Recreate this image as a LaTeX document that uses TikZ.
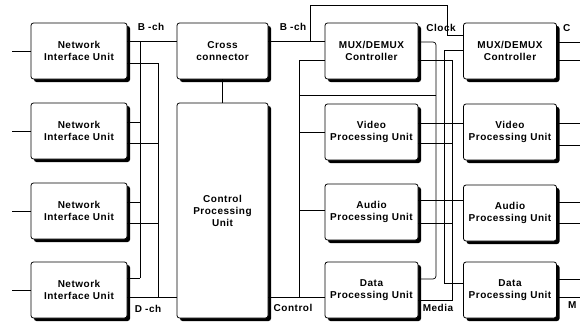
\documentclass[tikz,border=0pt]{standalone}
\usepackage{fontspec}
\setmainfont{Liberation Sans}
\newfontfamily\diafont[LetterSpace=5]{Liberation Sans}
\usetikzlibrary{shadows}
\begin{document}
\begin{tikzpicture}[x=1pt,y=-1pt,
  unit/.style={draw, line width=0.8pt, fill=white, rounded corners=2.5pt,
    general shadow={fill=black, shadow xshift=3pt, shadow yshift=-3pt},
    align=center, inner sep=0pt, font=\diafont\bfseries\fontsize{10}{12}\selectfont},
  niu/.style={unit, minimum width=96pt, minimum height=56pt},
  colunit/.style={unit, minimum width=93pt, minimum height=56pt},
  wire/.style={line width=0.7pt},
  lbl/.style={font=\diafont\bfseries\fontsize{10}{11}\selectfont, inner sep=0pt}]
\useasboundingbox (0,0) rectangle (580,324);
\clip (0,0) rectangle (580,324);
\fill[white] (0,0) rectangle (580,324);

% left column
\node[niu] (niu1) at (79,51) {Network\\Interface Unit};
\node[niu] (niu2) at (79,131) {Network\\Interface Unit};
\node[niu] (niu3) at (79,211) {Network\\Interface Unit};
\node[niu] (niu4) at (79,290) {Network\\Interface Unit};

% centre
\node[unit, minimum width=91pt, minimum height=56pt] (cross) at (222.5,51) {Cross\\connector};
\node[unit, minimum width=91pt, minimum height=215pt] (cpu) at (222.5,210.5) {Control\\Processing\\Unit};

% first processing column
\node[colunit] (mux1) at (371.5,51) {MUX/DEMUX\\Controller};
\node[colunit] (video1) at (371.5,132) {Video\\Processing Unit};
\node[colunit] (audio1) at (371.5,212) {Audio\\Processing Unit};
\node[colunit] (data1) at (371.5,290) {Data\\Processing Unit};

% second processing column
\node[colunit] (mux2) at (510,51) {MUX/DEMUX\\Controller};
\node[colunit] (video2) at (510,132) {Video\\Processing Unit};
\node[colunit] (audio2) at (510,213) {Audio\\Processing Unit};
\node[colunit] (data2) at (510,290) {Data\\Processing Unit};

% free ends on the left
\foreach \n in {1,2,3,4}{
  \coordinate (in\n) at (12,0 |- niu\n.west);
  \draw[wire] (niu\n.west) -- (in\n);
}

% B-ch and D-ch buses
\coordinate (bB1) at (140,41);  \coordinate (bB2) at (140,278);
\coordinate (bD1) at (158,63);  \coordinate (bD2) at (158,297);
\draw[wire] (bB1) -- (bB2);
\draw[wire] (bD1) -- (bD2);
\draw[wire] (niu1.east |- 0,41) -- (cross.west |- 0,41);
\draw[wire] (niu1.east |- 0,63) -- (bD1);
\draw[wire] (niu2.east |- 0,122) -- (bB2 |- 0,122);
\draw[wire] (niu2.east |- 0,143) -- (bD2 |- 0,143);
\draw[wire] (niu3.east |- 0,202) -- (bB2 |- 0,202);
\draw[wire] (niu3.east |- 0,223) -- (bD2 |- 0,223);
\draw[wire] (niu4.east |- 0,278) -- (bB2);
\draw[wire] (niu4.east |- 0,297) -- (cpu.west |- 0,297);

% cross connector links
\draw[wire] (cross.south) -- (cpu.north);
\draw[wire] (cross.east |- 0,41) -- (mux1.west |- 0,41);
\coordinate (ck) at (310,41);
\draw[wire] (ck) -- (310,5) -- (447,5) -- (447,35) -- (mux2.west |- 0,35);

% control bus
\coordinate (c1) at (299,60); \coordinate (c2) at (299,297);
\draw[wire] (cpu.east |- 0,297) -- (data1.west |- 0,297);
\draw[wire] (c2) -- (c1) -- (mux1.west |- 0,60);
\draw[wire] (c1 |- 0,95) -- (436,95);
\draw[wire] (c1 |- video1.west) -- (video1.west);
\draw[wire] (c1 |- 0,210) -- (audio1.west |- 0,210);

% media buses
\draw[wire, rounded corners=3pt] (mux1.east |- 0,42) -- (436,42) -- (436,279) -- (data1.east |- 0,279);
\draw[wire] (mux2.west |- 0,50) -- (444,50) -- (444,283) -- (data2.west |- 0,283);
\draw[wire] (mux1.east |- 0,60) -- (452,60) -- (452,300) -- (data1.east |- 0,300);
\draw[wire] (video1.east |- 0,123) -- (video2.west |- 0,123);
\draw[wire] (audio1.east |- 0,200) -- (audio2.west |- 0,200);
\draw[wire] (video1.east |- 0,143) -- (452,143);
\draw[wire] (audio1.east |- 0,223) -- (452,223);

% outputs on the right
\foreach \b/\ya/\yb in {mux2/42/60, video2/123/145, audio2/202/223, data2/279/297}{
  \coordinate (\b oa) at (580,\ya);
  \coordinate (\b ob) at (580,\yb);
  \draw[wire] (\b.east |- 0,\ya) -- (\b oa);
  \draw[wire] (\b.east |- 0,\yb) -- (\b ob);
}

% labels
\node[lbl] (lb1) at (151,27) {B -ch};
\node[lbl] (lb2) at (293,27) {B -ch};
\node[lbl] (lck) at (441,28) {Clock};
\node[lbl, anchor=west] (lck2) at (563,28) {C};
\node[lbl] (ldch) at (148,309) {D -ch};
\node[lbl] (lctl) at (293,308) {Control};
\node[lbl] (lmed) at (438,308) {Media};
\node[lbl, anchor=west] (lmed2) at (568,305) {M};
\end{tikzpicture}
\end{document}
